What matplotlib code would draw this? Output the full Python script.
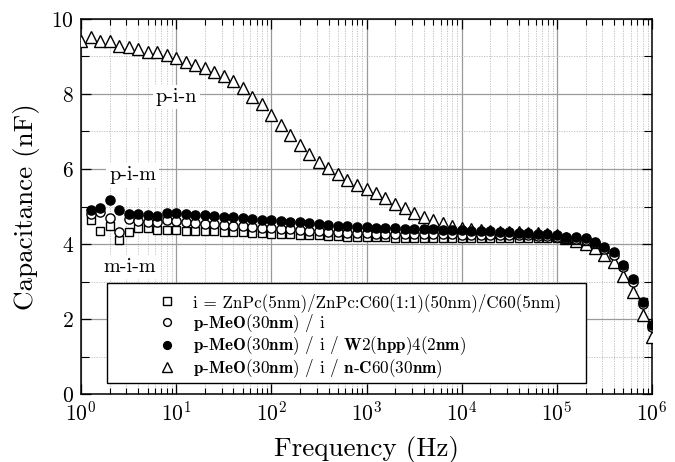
import matplotlib
matplotlib.use("Agg")
import matplotlib.pyplot as plt
from matplotlib.patches import Rectangle
from matplotlib.ticker import LogLocator, MultipleLocator, NullFormatter

plt.rcParams["font.family"] = ["cmr10", "DejaVu Serif"]
plt.rcParams["mathtext.fontset"] = "cm"
plt.rcParams["axes.formatter.use_mathtext"] = True

# measurement frequencies (Hz), 10 points per decade
freq = [1.0, 1.26, 1.58, 2.0, 2.51, 3.16, 3.98, 5.01, 6.31, 7.94,
        10, 12.6, 15.8, 20, 25.1, 31.6, 39.8, 50.1, 63.1, 79.4,
        100, 126, 158, 200, 251, 316, 398, 501, 631, 794,
        1.0e3, 1.26e3, 1.58e3, 2.0e3, 2.51e3, 3.16e3, 3.98e3, 5.01e3, 6.31e3, 7.94e3,
        1.0e4, 1.26e4, 1.58e4, 2.0e4, 2.51e4, 3.16e4, 3.98e4, 5.01e4, 6.31e4, 7.94e4,
        1.0e5, 1.26e5, 1.58e5, 2.0e5, 2.51e5, 3.16e5, 3.98e5, 5.01e5, 6.31e5, 7.94e5,
        1.0e6]

# capacitance (nF)
cap_nc60 = [9.42, 9.53, 9.42, 9.40, 9.28, 9.24, 9.19, 9.11, 9.11, 9.04,
            8.95, 8.86, 8.77, 8.68, 8.59, 8.48, 8.35, 8.15, 7.93, 7.73,
            7.44, 7.17, 6.91, 6.64, 6.40, 6.19, 6.03, 5.86, 5.71, 5.57,
            5.46, 5.35, 5.22, 5.08, 4.95, 4.83, 4.73, 4.64, 4.57, 4.48,
            4.42, 4.39, 4.37, 4.35, 4.33, 4.32, 4.31, 4.30, 4.29, 4.27,
            4.24, 4.16, 4.08, 3.99, 3.89, 3.72, 3.51, 3.15, 2.71, 2.12,
            1.53]
# the other three series start at 1.26 Hz
cap_i = [4.64, 4.35, 4.49, 4.10, 4.33, 4.44, 4.44, 4.37, 4.37,
         4.37, 4.36, 4.36, 4.35, 4.34, 4.33, 4.32, 4.31, 4.30, 4.29,
         4.28, 4.27, 4.26, 4.25, 4.24, 4.23, 4.22, 4.21, 4.20, 4.19,
         4.19, 4.18, 4.18, 4.17, 4.17, 4.17, 4.16, 4.16, 4.16, 4.15,
         4.15, 4.15, 4.15, 4.15, 4.15, 4.15, 4.15, 4.15, 4.15, 4.15,
         4.15, 4.14, 4.12, 4.08, 4.00, 3.88, 3.73, 3.42, 3.05, 2.45,
         1.82]
cap_pmeo = [4.79, 4.86, 4.70, 4.31, 4.67, 4.61, 4.60, 4.60, 4.64,
            4.61, 4.58, 4.56, 4.54, 4.53, 4.51, 4.49, 4.47, 4.46, 4.44,
            4.42, 4.41, 4.39, 4.38, 4.36, 4.35, 4.33, 4.31, 4.30, 4.29,
            4.29, 4.28, 4.28, 4.27, 4.27, 4.27, 4.26, 4.26, 4.26, 4.26,
            4.25, 4.25, 4.25, 4.25, 4.24, 4.24, 4.23, 4.23, 4.22, 4.21,
            4.20, 4.17, 4.14, 4.10, 4.02, 3.88, 3.72, 3.38, 3.00, 2.40,
            1.80]
cap_w2 = [4.91, 4.97, 5.18, 4.91, 4.80, 4.80, 4.77, 4.75, 4.84,
          4.84, 4.80, 4.77, 4.77, 4.76, 4.73, 4.71, 4.69, 4.67, 4.65,
          4.63, 4.61, 4.60, 4.58, 4.56, 4.54, 4.52, 4.49, 4.47, 4.46,
          4.45, 4.44, 4.43, 4.42, 4.41, 4.40, 4.40, 4.39, 4.38, 4.38,
          4.37, 4.36, 4.35, 4.34, 4.33, 4.32, 4.30, 4.29, 4.28, 4.26,
          4.24, 4.20, 4.18, 4.15, 4.06, 3.93, 3.78, 3.44, 3.07, 2.46,
          1.84]

labels = [
    "i = ZnPc(5nm)/ZnPc:C60(1:1)(50nm)/C60(5nm)",
    r"$\mathbf{p}$-$\mathbf{MeO(30nm)}$ / i",
    r"$\mathbf{p}$-$\mathbf{MeO(30nm)}$ / i / $\mathbf{W2(hpp)4(2nm)}$",
    r"$\mathbf{p}$-$\mathbf{MeO(30nm)}$ / i / $\mathbf{n}$-$\mathbf{C60(30nm)}$",
]

fig = plt.figure(figsize=(6.75, 4.62), dpi=100)
ax = fig.add_axes([0.12, 0.147, 0.846, 0.812])
ax.set_xscale("log")

mk = dict(linestyle="none", markeredgecolor="black", markeredgewidth=1.0)
h_tri, = ax.plot(freq, cap_nc60, marker="^", markersize=8.2, markerfacecolor="white", zorder=3, **mk)
h_sq, = ax.plot(freq[1:], cap_i, marker="s", markersize=6.0, markerfacecolor="white", zorder=3.1, **mk)
h_oc, = ax.plot(freq[1:], cap_pmeo, marker="o", markersize=6.6, markerfacecolor="white", zorder=3.2, **mk)
h_fc, = ax.plot(freq[1:], cap_w2, marker="o", markersize=6.6, markerfacecolor="black", zorder=3.3, **mk)

ax.set_xlim(1, 1e6)
ax.set_ylim(0, 10)
ax.xaxis.set_major_locator(LogLocator(base=10, numticks=10))
ax.xaxis.set_minor_locator(LogLocator(base=10, subs=range(2, 10), numticks=20))
ax.xaxis.set_minor_formatter(NullFormatter())
ax.yaxis.set_major_locator(MultipleLocator(2))
ax.yaxis.set_minor_locator(MultipleLocator(1))

ax.grid(which="major", color="#9a9a9a", linewidth=0.9)
ax.grid(which="minor", color="#bcbcbc", linewidth=0.6, linestyle=(0, (1.5, 1.5)))
ax.set_axisbelow(True)

ax.tick_params(which="both", direction="in", top=True, right=True, labelsize=15.5)
ax.tick_params(which="major", length=7, width=0.9, pad=5)
ax.tick_params(which="minor", length=4, width=0.8)
ax.tick_params(axis="y", which="minor", length=6)
for s in ax.spines.values():
    s.set_linewidth(1.1)

ax.set_xlabel("Frequency (Hz)", fontsize=19.5, labelpad=8)
ax.set_ylabel("Capacitance (nF)", fontsize=19.5, labelpad=8)

box = dict(facecolor="white", edgecolor="none", pad=2)
ax.text(10, 7.92, "p-i-n", fontsize=14.5, ha="center", va="center", bbox=box, zorder=2.5)
ax.text(3.5, 5.84, "p-i-m", fontsize=14.5, ha="center", va="center", bbox=box, zorder=2.5)
ax.text(3.27, 3.39, "m-i-m", fontsize=14.5, ha="center", va="center", bbox=box, zorder=2.5)

# legend frame drawn separately so the markers can sit well inside it
ax.add_patch(Rectangle((0.0455, 0.029), 0.8385, 0.267, transform=ax.transAxes,
                       facecolor="white", edgecolor="black", linewidth=1.0, zorder=4.5))
leg = ax.legend([h_sq, h_oc, h_fc, h_tri], labels, loc="center left",
                bbox_to_anchor=(0.136, 0.153), frameon=False, fontsize=12.3,
                handlelength=1.0, handletextpad=1.0, borderpad=0, borderaxespad=0,
                labelspacing=0.0, markerscale=0.85, numpoints=1)
leg.set_zorder(5)

fig.savefig("out.png", dpi=100)
